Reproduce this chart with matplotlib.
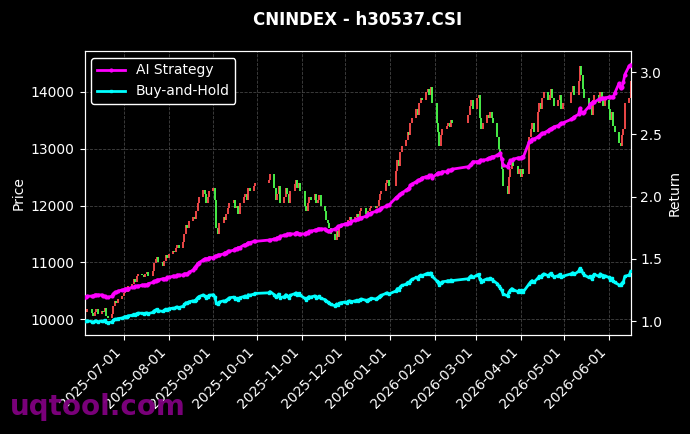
import numpy as np
import pandas as pd
import matplotlib
matplotlib.use("Agg")
import matplotlib.pyplot as plt
import matplotlib.dates as mdates

# ---------------- data ----------------
start_date = "2025-06-04"
end_date = "2026-06-16"
holidays = ["2025-10-01", "2025-10-02", "2025-10-03", "2025-10-06", "2025-10-07", "2025-10-08",
            "2026-01-01", "2026-01-02",
            "2026-02-16", "2026-02-17", "2026-02-18", "2026-02-19", "2026-02-20", "2026-02-23",
            "2026-04-06", "2026-05-01", "2026-05-04", "2026-05-05"]

close_2025_06 = [10150, 10120, 10180, 10100, 10060, 10130, 10170, 10090, 10150, 10120, 10200, 10050,
                 10010, 10080, 10230, 10310, 10290, 10350, 10400]
close_2025_07 = [10450, 10520, 10480, 10580, 10620, 10700, 10650, 10760, 10800, 10780, 10740, 10790,
                 10820, 10760, 10850, 10980, 11050, 11100, 11000, 10930, 11020, 11120, 11080]
close_2025_08 = [11150, 11200, 11180, 11260, 11300, 11250, 11350, 11500, 11650, 11600, 11720, 11800,
                 11760, 11900, 12050, 12150, 12280, 12200, 12050, 12150, 12250]
close_2025_09 = [12300, 12100, 11600, 11500, 11700, 11800, 11750, 11850, 11950, 12050, 12100, 11950,
                 12000, 11850, 12050, 12150, 12200, 12100, 12300, 12250, 12350, 12400]
close_2025_10 = [12450, 12550, 12300, 12100, 12200, 12350, 12050, 12150, 12300, 12200, 12050, 12250,
                 12380, 12450, 12300, 12400, 12250]
close_2025_11 = [12000, 11900, 12050, 12150, 12100, 12200, 12050, 12100, 12180, 12000, 11900, 11750,
                 11700, 11600, 11500, 11400, 11550, 11450, 11600, 11650]
close_2025_12 = [11700, 11650, 11750, 11800, 11720, 11800, 11850, 11780, 11900, 11950, 11850, 11800,
                 11900, 11950, 12000, 11950, 12000, 12100, 12200, 12250, 12400, 12450, 12350]
close_2026_01 = [12600, 12800, 12700, 12950, 13050, 13150, 13300, 13250, 13450, 13550, 13700, 13600,
                 13800, 13900, 13850, 14000, 14050, 13950, 14080, 13800]
close_2026_02 = [13450, 13300, 13050, 13250, 13350, 13400, 13450, 13380, 13500, 13450, 13600, 13750,
                 13850, 13700]
close_2026_03 = [13900, 13950, 13550, 13350, 13450, 13600, 13550, 13650, 13550, 13450, 13200, 13000,
                 12850, 12650, 12350, 12200, 12500, 12650, 12800, 12700, 12550, 12650]
close_2026_04 = [12500, 12650, 12550, 13200, 13350, 13450, 13300, 13650, 13800, 13700, 13900, 14000,
                 13850, 13950, 14050, 13900, 13750, 13850, 13950, 13700, 13800]
close_2026_05 = [14000, 14100, 13950, 14200, 14450, 14300, 14050, 13900, 13700, 13800, 13600, 13850,
                 13950, 13800, 14000, 13900, 13750, 13850]
close_2026_06 = [13700, 13500, 13650, 13400, 13300, 13100, 13050, 13250, 13350, 13800, 13900, 14200]
first_open = 10100

ai_2025_06 = [1.19, 1.19, 1.20, 1.20, 1.20, 1.21, 1.21, 1.21, 1.21, 1.20, 1.20, 1.19, 1.19, 1.20, 1.22,
              1.23, 1.23, 1.24, 1.25]
ai_2025_07 = [1.25, 1.26, 1.26, 1.26, 1.27, 1.27, 1.28, 1.28, 1.28, 1.29, 1.29, 1.29, 1.29, 1.30, 1.31,
              1.32, 1.32, 1.33, 1.33, 1.34, 1.34, 1.34, 1.35]
ai_2025_08 = [1.35, 1.36, 1.36, 1.36, 1.37, 1.37, 1.37, 1.38, 1.38, 1.38, 1.39, 1.41, 1.43, 1.44, 1.46,
              1.47, 1.49, 1.50, 1.50, 1.50, 1.51]
ai_2025_09 = [1.51, 1.52, 1.52, 1.53, 1.53, 1.54, 1.55, 1.55, 1.56, 1.56, 1.57, 1.58, 1.58, 1.59, 1.59,
              1.61, 1.61, 1.62, 1.63, 1.63, 1.64, 1.64]
ai_2025_10 = [1.65, 1.65, 1.66, 1.66, 1.67, 1.67, 1.68, 1.69, 1.69, 1.70, 1.70, 1.70, 1.70, 1.71, 1.71,
              1.70, 1.70]
ai_2025_11 = [1.70, 1.71, 1.71, 1.72, 1.72, 1.73, 1.73, 1.74, 1.74, 1.74, 1.74, 1.73, 1.72, 1.72, 1.73,
              1.74, 1.75, 1.76, 1.76, 1.77]
ai_2025_12 = [1.78, 1.78, 1.79, 1.79, 1.80, 1.81, 1.82, 1.82, 1.83, 1.83, 1.84, 1.85, 1.86, 1.86, 1.87,
              1.88, 1.89, 1.89, 1.90, 1.91, 1.92, 1.93, 1.93]
ai_2026_01 = [1.99, 2.00, 2.01, 2.02, 2.03, 2.05, 2.06, 2.07, 2.09, 2.10, 2.12, 2.13, 2.13, 2.14, 2.15,
              2.16, 2.16, 2.17, 2.17, 2.15]
ai_2026_02 = [2.18, 2.19, 2.19, 2.19, 2.20, 2.20, 2.21, 2.21, 2.21, 2.22, 2.24, 2.25, 2.26, 2.28]
ai_2026_03 = [2.28, 2.28, 2.29, 2.29, 2.29, 2.30, 2.31, 2.31, 2.32, 2.32, 2.33, 2.34, 2.35, 2.30, 2.25,
              2.24, 2.27, 2.29, 2.29, 2.30, 2.31, 2.31]
ai_2026_04 = [2.31, 2.32, 2.32, 2.44, 2.45, 2.46, 2.46, 2.48, 2.49, 2.50, 2.51, 2.51, 2.53, 2.54, 2.54,
              2.55, 2.56, 2.57, 2.58, 2.59, 2.59]
ai_2026_05 = [2.62, 2.63, 2.64, 2.66, 2.71, 2.68, 2.67, 2.68, 2.72, 2.74, 2.75, 2.76, 2.76, 2.78, 2.78,
              2.79, 2.79, 2.79]
ai_2026_06 = [2.80, 2.80, 2.80, 2.80, 2.83, 2.91, 2.87, 2.88, 2.92, 2.98, 3.05, 3.06]

title = "CNINDEX - h30537.CSI"
watermark = "uqtool.com"

# ---------------- assemble ----------------
closes = np.array(close_2025_06 + close_2025_07 + close_2025_08 + close_2025_09 + close_2025_10 +
                  close_2025_11 + close_2025_12 + close_2026_01 + close_2026_02 + close_2026_03 +
                  close_2026_04 + close_2026_05 + close_2026_06, dtype=float)
ai_ret = np.array(ai_2025_06 + ai_2025_07 + ai_2025_08 + ai_2025_09 + ai_2025_10 + ai_2025_11 +
                  ai_2025_12 + ai_2026_01 + ai_2026_02 + ai_2026_03 + ai_2026_04 + ai_2026_05 +
                  ai_2026_06)
dates = pd.bdate_range(start_date, end_date)
dates = dates[~dates.isin(pd.to_datetime(holidays))]
assert len(dates) == len(closes) == len(ai_ret), (len(dates), len(closes), len(ai_ret))

opens = np.concatenate([[first_open], closes[:-1]])
bh_ret = closes / closes[0]

# ---------------- plot ----------------
BG = "black"
fig = plt.figure(figsize=(6.9, 4.34), dpi=100, facecolor=BG)
ax = fig.add_subplot(111)
fig.subplots_adjust(left=0.1225, right=0.914, top=0.8825, bottom=0.228)
ax.set_facecolor(BG)

up = closes >= opens
colors = np.where(up, "#ff4d4d", "#4dff4d")
xnum = mdates.date2num(dates)
ax.vlines(xnum, np.minimum(opens, closes), np.maximum(opens, closes), colors=colors, linewidth=1.3, zorder=2)

ax.set_ylim(9718, 14722)
ax.set_yticks([10000, 11000, 12000, 13000, 14000])
ax.set_ylabel("Price", color="white", fontsize=10)

ax2 = ax.twinx()
l1, = ax2.plot(xnum, ai_ret, color="#ff00ff", linewidth=2, marker="o", markersize=2, label="AI Strategy", zorder=3)
l2, = ax2.plot(xnum, bh_ret, color="#00ffff", linewidth=2, marker="s", markersize=2, label="Buy-and-Hold", zorder=3)
ax2.set_ylim(0.8875, 3.169)
ax2.set_yticks([1.0, 1.5, 2.0, 2.5, 3.0])
ax2.set_ylabel("Return", color="white", fontsize=10)

ax.set_xlim(xnum[0], xnum[-1])
ax.xaxis.set_major_locator(mdates.MonthLocator())
ax.xaxis.set_major_formatter(mdates.DateFormatter("%Y-%m-%d"))
for lab in ax.get_xticklabels():
    lab.set_rotation(45)
    lab.set_ha("right")

for a in (ax, ax2):
    a.tick_params(colors="white", labelsize=10)
    for s in a.spines.values():
        s.set_color("white")
ax.grid(True, color="#555555", linestyle="--", linewidth=0.6, alpha=0.8)
ax.set_axisbelow(True)

ax.set_title(title, color="white", fontsize=12, fontweight="bold", pad=19)

leg = ax2.legend(handles=[l1, l2], loc="upper left", facecolor="black", edgecolor="white",
                 fontsize=10, framealpha=1.0)
for t in leg.get_texts():
    t.set_color("white")

fig.text(0.014, 0.03, watermark, color="#800080", fontsize=20, fontweight="bold", alpha=0.95,
         ha="left", va="bottom")

fig.savefig("out.png", dpi=100, facecolor=BG)
